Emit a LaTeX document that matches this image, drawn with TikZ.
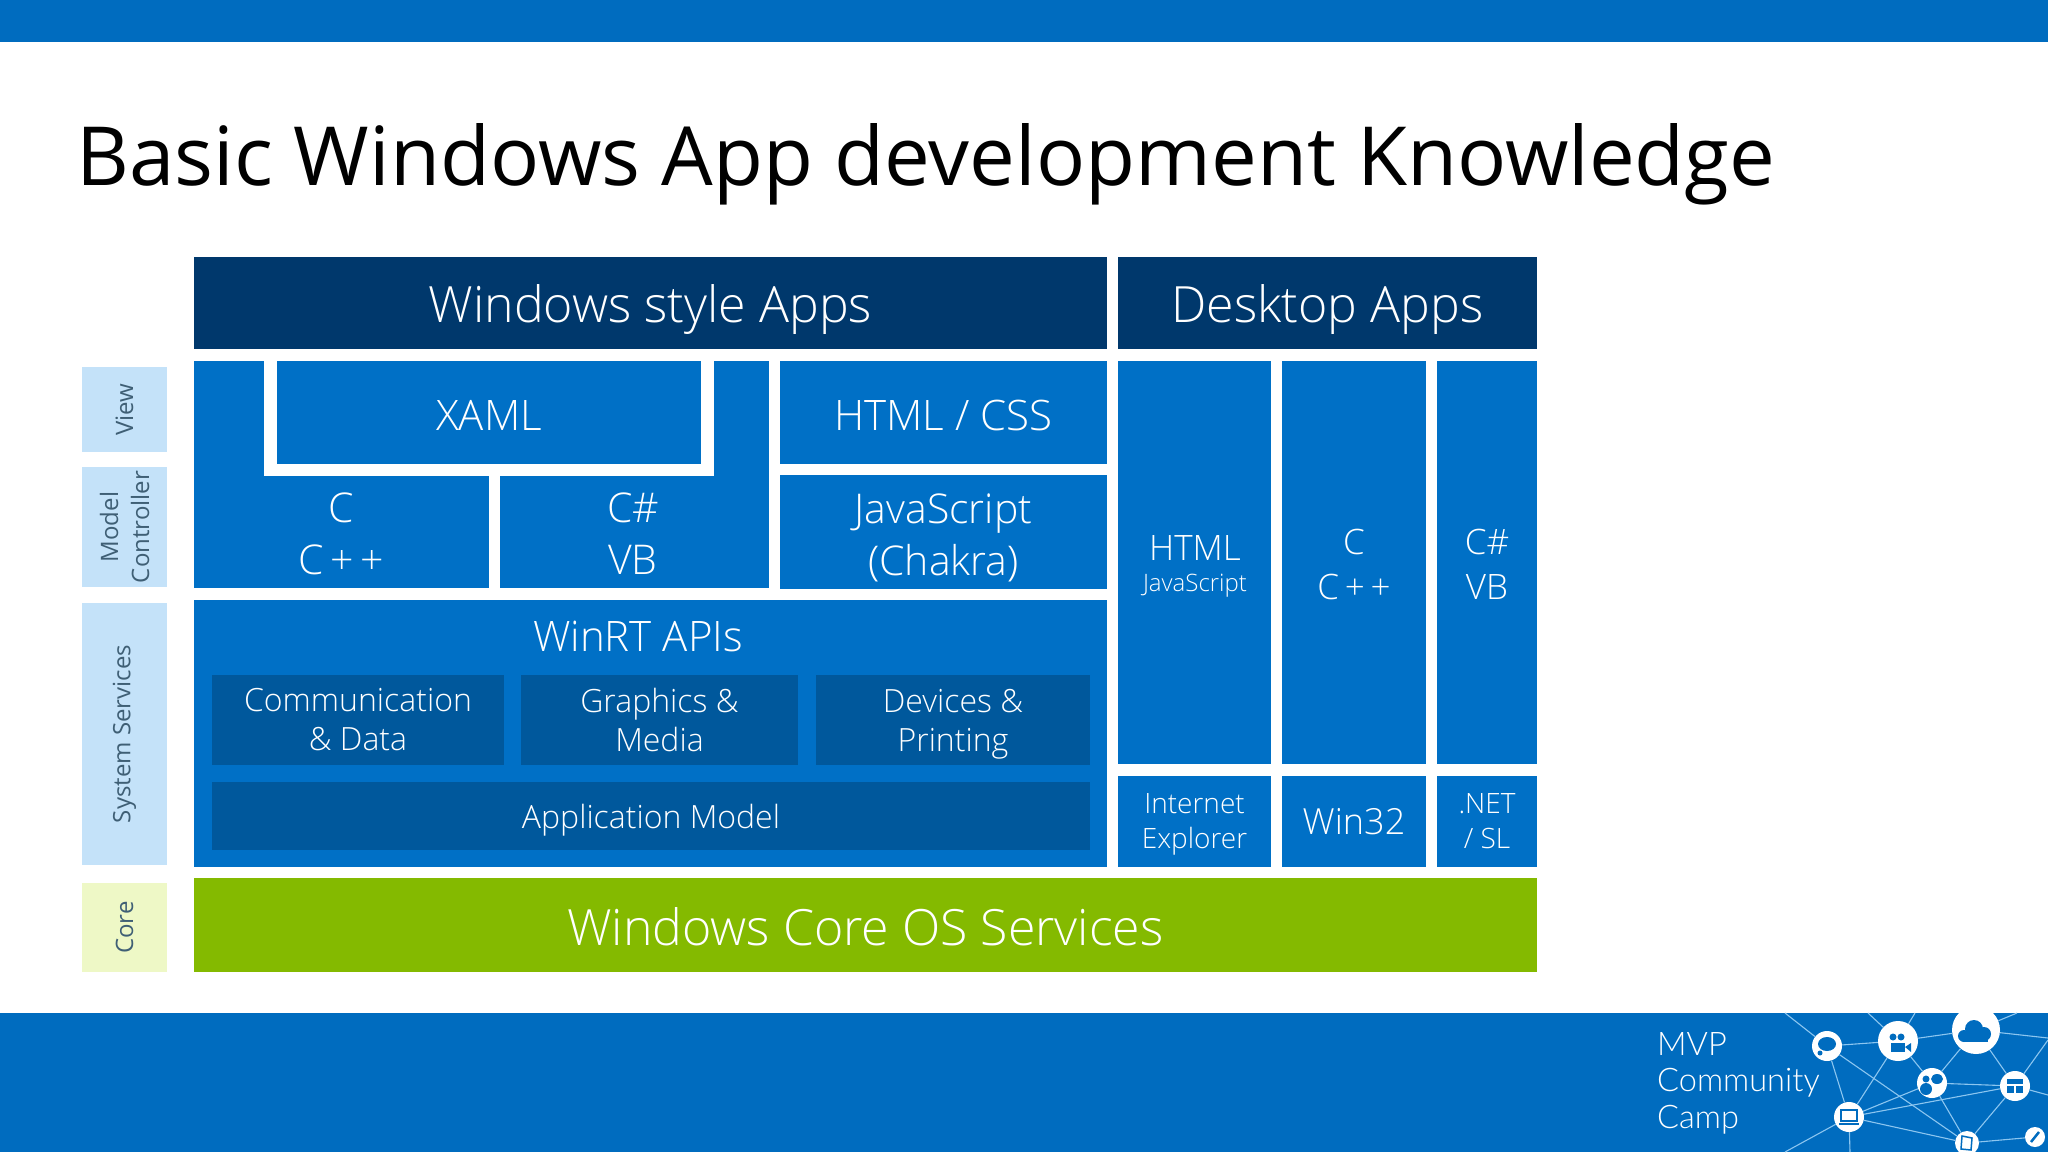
\documentclass[tikz,border=0pt]{standalone}
\usepackage{fontspec}
\setmainfont{Open Sans}
\newfontfamily\lightfont{Lato Light}
\newfontfamily\blockfont{Open Sans Light}
\usepackage{tikz}

\definecolor{barblue}{HTML}{006CBF}
\definecolor{navyblue}{HTML}{00386C}
\definecolor{midblue}{HTML}{0070C6}
\definecolor{darkblue}{HTML}{00589C}
\definecolor{paleblue}{HTML}{C4E2F9}
\definecolor{palegreen}{HTML}{EEF8C6}
\definecolor{coregreen}{HTML}{84BA00}
\definecolor{sidetext}{HTML}{3F5F75}
\definecolor{netblue}{HTML}{8CC6F0}

\newcommand{\fsz}[2]{\fontsize{#1}{#2}\selectfont}

\tikzset{
  blocktext/.style={text=white, align=center, inner sep=0pt},
  sidetag/.style={text=sidetext, align=center, inner sep=0pt, rotate=90, font=\fsz{24}{31}},
  hub/.style={circle, fill=white, inner sep=0pt},
  netline/.style={draw=netblue, line width=1.1pt}
}

\begin{document}
\begin{tikzpicture}[x=1pt, y=-1pt]
\useasboundingbox (0,0) rectangle (2048,1152);
\fill[white] (0,0) rectangle (2048,1152);

% bars
\fill[barblue] (0,0) rectangle (2048,42);
\fill[barblue] (0,1013) rectangle (2048,1152);
\node[anchor=west, inner sep=0pt, font=\fsz{81.6}{96}] (title) at (76,164) {Basic Windows App development Knowledge};

% side tags
\fill[paleblue] (82,367) rectangle (167,452) node[midway, sidetag] (view) {View};
\fill[paleblue] (82,467) rectangle (167,587) node[midway, sidetag] (model) {Model\\Controller};
\fill[paleblue] (82,603) rectangle (167,865) node[midway, sidetag] (system) {System Services};
\fill[palegreen] (82,883) rectangle (167,972) node[midway, sidetag] (core) {Core};

% top row
\fill[navyblue] (194,257) rectangle (1107,349) node[midway, blocktext, yshift=-7pt, font=\blockfont\fsz{50}{56}] (winstyle) {Windows style Apps};
\fill[navyblue] (1118,257) rectangle (1537,349) node[midway, blocktext, yshift=-7pt, font=\blockfont\fsz{50}{56}] (desktop) {Desktop Apps};

% xaml and languages
\fill[midblue] (194,361) rectangle (769,588);
\fill[white] (264,361) rectangle (714,476);
\fill[white] (489,476) rectangle (500,588);
\fill[midblue] (277,361) rectangle (701,464) node[midway, blocktext, yshift=-3pt, font=\blockfont\fsz{42}{52}] (xaml) {XAML};
\node[blocktext, font=\blockfont\fsz{41}{52}] (cpp) at (341,534) {C\\C\,+\,+};
\node[blocktext, font=\blockfont\fsz{41}{52}] (csharp) at (633,534) {C\#\\VB};
\fill[midblue] (780,361) rectangle (1107,464) node[midway, blocktext, yshift=-3pt, font=\blockfont\fsz{42}{52}] (html) {HTML / CSS};
\fill[midblue] (780,475) rectangle (1107,589) node[midway, blocktext, yshift=-6pt, font=\blockfont\fsz{41}{52}] (js) {JavaScript\\(Chakra)};

% winrt
\fill[midblue] (194,600) rectangle (1107,867);
\node[blocktext, font=\blockfont\fsz{42}{52}] (winrt) at (638,636) {WinRT APIs};
\fill[darkblue] (212,675) rectangle (504,765) node[midway, blocktext, font=\blockfont\fsz{32}{39}] (comm) {Communication\\\& Data};
\fill[darkblue] (521,675) rectangle (798,765) node[midway, blocktext, font=\blockfont\fsz{32}{39}] (graphics) {Graphics \&\\Media};
\fill[darkblue] (816,675) rectangle (1090,765) node[midway, blocktext, yshift=-4pt, font=\blockfont\fsz{32}{39}] (devices) {Devices \&\\Printing};
\fill[darkblue] (212,782) rectangle (1090,850) node[midway, blocktext, yshift=-4pt, font=\blockfont\fsz{32}{39}] (appmodel) {Application Model};

% desktop columns
\fill[midblue] (1118,361) rectangle (1271,764);
\node[blocktext, font=\blockfont\fsz{35}{42}] (htmlcol) at (1195,548) {HTML};
\node[blocktext, font=\blockfont\fsz{24}{30}] (jscol) at (1195,586) {JavaScript};
\fill[midblue] (1282,361) rectangle (1426,764) node[midway, blocktext, yshift=-2pt, font=\blockfont\fsz{35}{45}] (ccol) {C\\C\,+\,+};
\fill[midblue] (1437,361) rectangle (1537,764) node[midway, blocktext, yshift=-2pt, font=\blockfont\fsz{35}{45}] (cscol) {C\#\\VB};
\fill[midblue] (1118,776) rectangle (1271,867) node[midway, blocktext, yshift=-3pt, font=\blockfont\fsz{28}{35}] (ie) {Internet\\Explorer};
\fill[midblue] (1282,776) rectangle (1426,867) node[midway, blocktext, font=\blockfont\fsz{36}{44}] (win32) {Win32};
\fill[midblue] (1437,776) rectangle (1537,867) node[midway, blocktext, font=\blockfont\fsz{28}{35}] (net) {.NET\\/ SL};

% core
\fill[coregreen] (194,878) rectangle (1537,972) node[midway, blocktext, yshift=-2pt, font=\blockfont\fsz{50}{56}] (coreos) {Windows Core OS Services};

% logo
\node[anchor=west, align=left, inner sep=0pt, text=white, font=\lightfont\fsz{32.5}{36.5}] (camp) at (1657,1083) {MVP\\Community\\Camp};
\node[hub, minimum size=30pt] (chat) at (1827,1046) {};
\node[hub, minimum size=40pt] (camera) at (1898,1041) {};
\node[hub, minimum size=48pt] (cloud) at (1976,1030) {};
\node[hub, minimum size=30pt] (people) at (1932,1083) {};
\node[hub, minimum size=30pt] (window) at (2015,1086) {};
\node[hub, minimum size=30pt] (laptop) at (1849,1117) {};
\node[hub, minimum size=24pt] (tablet) at (1967,1143) {};
\node[hub, minimum size=20pt] (pen) at (2035,1137) {};
\coordinate (e1) at (1785,1013);
\coordinate (e2) at (1868,1013);
\coordinate (e3) at (1915,1013);
\coordinate (e4) at (2017,1013);
\coordinate (e5) at (2048,1038);
\coordinate (e6) at (2048,1095);
\coordinate (e7) at (2048,1040);
\coordinate (e8) at (1785,1152);
\coordinate (e9) at (1850,1152);
\foreach \a/\b in {chat/camera, camera/cloud, chat/laptop, camera/laptop, chat/tablet, camera/people, cloud/people, cloud/window, people/window, people/laptop, window/laptop, people/tablet, window/tablet, laptop/tablet, tablet/pen, chat/e1, camera/e2, camera/e3, cloud/e4, cloud/e5, window/e6, window/e7, laptop/e8, laptop/e9}
  \draw[netline] (\a) -- (\b);

% icons
\fill[barblue] (1827,1044) ellipse (9 and 7);
\fill[barblue] (1820,1053) circle (2.5);
\fill[barblue] (1891,1043) rectangle (1905,1052);
\fill[barblue] (1905,1047) -- (1911,1043) -- (1911,1052) -- cycle;
\fill[barblue] (1893,1037) circle (3.5);
\fill[barblue] (1901,1037) circle (3.5);
\fill[barblue] (1964,1036) circle (6);
\fill[barblue] (1974,1029) circle (9);
\fill[barblue] (1984,1034) circle (7);
\fill[barblue] (1964,1034) rectangle (1988,1042);
\fill[barblue] (1926,1089) circle (6);
\fill[barblue] (1937,1079) ellipse (6 and 5);
\fill[barblue] (1926,1079) circle (3.5);
\fill[barblue] (2007,1079) rectangle (2023,1084);
\fill[barblue] (2007,1086) rectangle (2014,1093);
\fill[barblue] (2016,1086) rectangle (2023,1093);
\draw[barblue, line width=1.5pt] (1841,1110) rectangle (1857,1121);
\draw[barblue, line width=1.5pt] (1839,1124) -- (1859,1124);
\draw[barblue, line width=1.5pt] (1962,1136) -- (1972,1138) -- (1971,1150) -- (1961,1149) -- cycle;
\draw[barblue, line width=2.5pt] (2031,1142) -- (2039,1132);
\end{tikzpicture}
\end{document}
